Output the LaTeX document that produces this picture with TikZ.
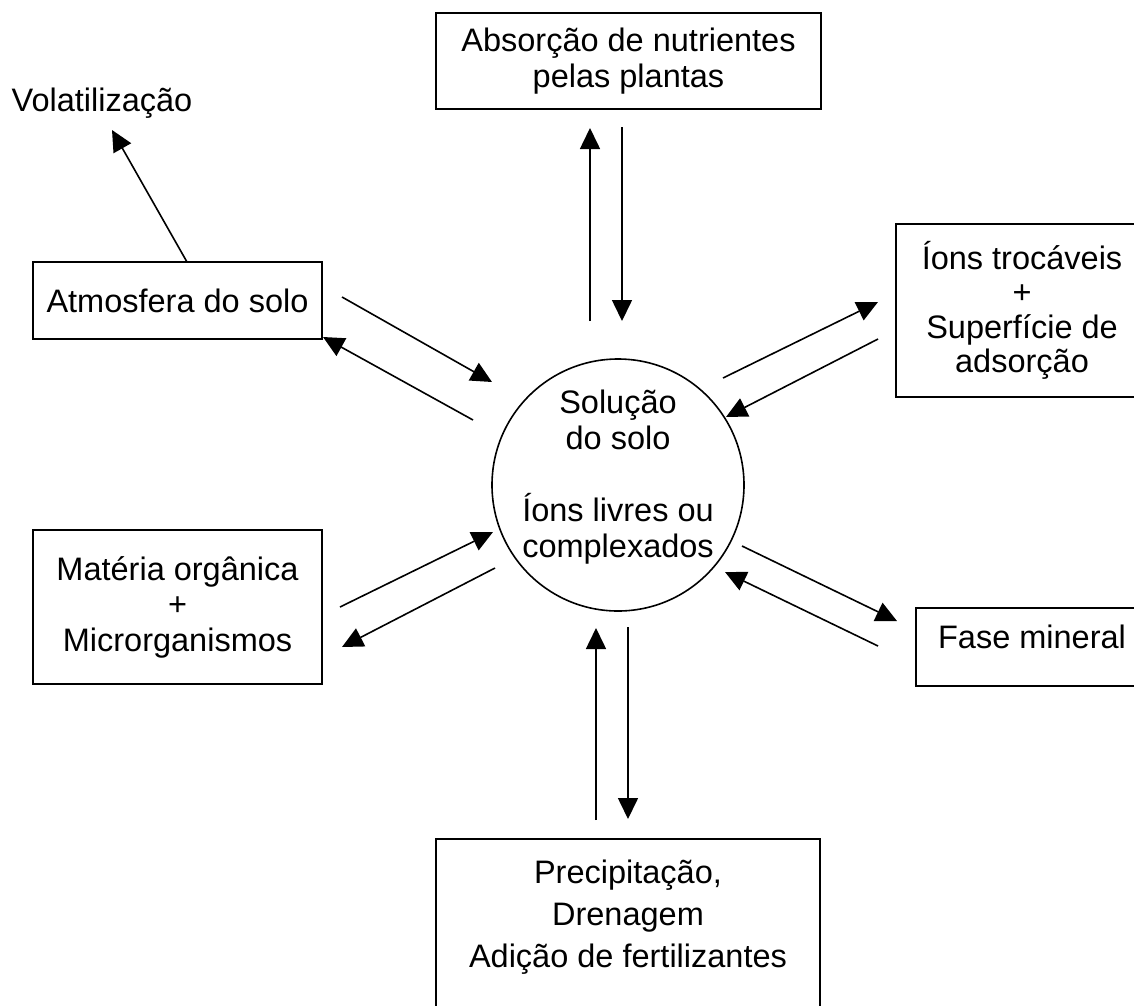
\documentclass[tikz,border=0pt]{standalone}
\usepackage{fontspec}
\setmainfont{Liberation Sans}
\usetikzlibrary{arrows.meta}
\begin{document}
\begin{tikzpicture}[x=1pt,y=-1pt,
  every node/.style={font=\fontsize{32.5}{35.5}\selectfont, inner sep=0pt},
  box/.style={draw, line width=1.6pt, rectangle, align=center},
  txt/.style={align=center},
  arr/.style={line width=1.6pt, -{Triangle[length=21pt,width=20pt]}}]
\useasboundingbox (0,0) rectangle (1134,1005);
\clip (0,0) rectangle (1134,1005);

% boxes
\node[box, minimum width=385pt, minimum height=96pt] (abs) at (628.5,61) {Absorção de nutrientes\\pelas plantas};
\node[box, minimum width=289pt, minimum height=77pt] (atm) at (177.5,300.5) {Atmosfera do solo};
\node[box, minimum width=289pt, minimum height=154pt] (mat) at (177.5,607) {Matéria orgânica\\+\\Microrganismos};
\node[box, minimum width=252pt, minimum height=173pt, font=\fontsize{32.5}{34.5}\selectfont] (ions) at (1022,310.5) {Íons trocáveis\\+\\Superfície de\\adsorção};
\node[box, minimum width=232pt, minimum height=78pt, text height=23pt, text depth=21pt] (fase) at (1032,647) {Fase mineral};
\node[box, minimum width=384pt, minimum height=200pt] (prec) at (628,939) {};
\node[txt, font=\fontsize{32.5}{42}\selectfont] (prect) at (628,917) {Precipitação,\\Drenagem\\Adição de fertilizantes};
\node (vol) at (102,103) {Volatilização};

% circle
\node[circle, draw, line width=1.6pt, minimum size=252pt] (sol) at (618,485) {};
\node[txt, font=\fontsize{32.5}{36}\selectfont] (solt) at (618,477) {Solução\\do solo\\[36pt]Íons livres ou\\complexados};

% arrow end points
\coordinate (v0) at (187,262);   \coordinate (v1) at (112,130);
\coordinate (a1s) at (342,297);  \coordinate (a1e) at (492,382);
\coordinate (a2s) at (473,420);  \coordinate (a2e) at (323,337);
\coordinate (m1s) at (340,607);  \coordinate (m1e) at (493,532);
\coordinate (m2s) at (495,568);  \coordinate (m2e) at (342,647);
\coordinate (i1s) at (723,378);  \coordinate (i1e) at (878,302);
\coordinate (i2s) at (878,339);  \coordinate (i2e) at (726,417);
\coordinate (f1s) at (742,546);  \coordinate (f1e) at (897,621);
\coordinate (f2s) at (878,646);  \coordinate (f2e) at (725,572);
\coordinate (t1s) at (590,321);  \coordinate (t1e) at (590,128);
\coordinate (t2s) at (622,127);  \coordinate (t2e) at (622,321);
\coordinate (b1s) at (596,820);  \coordinate (b1e) at (596,628);
\coordinate (b2s) at (628,627);  \coordinate (b2e) at (628,819);

\draw[arr] (v0) -- (v1);
\draw[arr] (a1s) -- (a1e);
\draw[arr] (a2s) -- (a2e);
\draw[arr] (m1s) -- (m1e);
\draw[arr] (m2s) -- (m2e);
\draw[arr] (i1s) -- (i1e);
\draw[arr] (i2s) -- (i2e);
\draw[arr] (f1s) -- (f1e);
\draw[arr] (f2s) -- (f2e);
\draw[arr] (t1s) -- (t1e);
\draw[arr] (t2s) -- (t2e);
\draw[arr] (b1s) -- (b1e);
\draw[arr] (b2s) -- (b2e);
\end{tikzpicture}
\end{document}
